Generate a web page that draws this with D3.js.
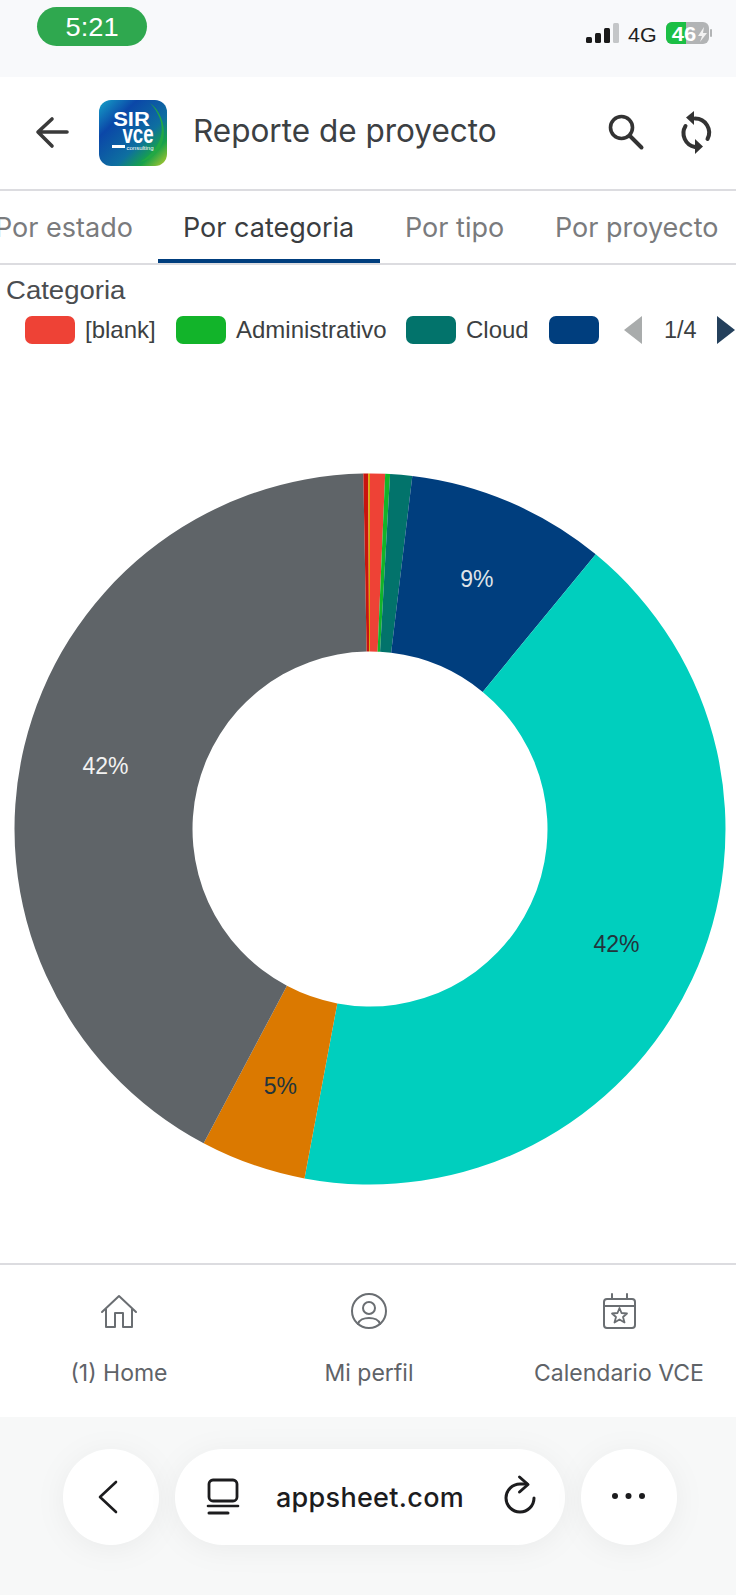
<!DOCTYPE html>
<html>
<head>
<meta charset="utf-8">
<title>Reporte de proyecto</title>
<script src="https://cdn.jsdelivr.net/npm/d3@7"></script>
<style>
	html, body { margin: 0; padding: 0; background: #fff; }
	svg { display: block; }
	text { font-family: Inter, sans-serif; }
	.arial { font-family: "Liberation Sans", Arial, sans-serif; }
</style>
</head>
<body>
<div id="chart"></div>
<script>
// slices run clockwise from 12 o'clock. only the first three names can be read in the legend
const categories = ['[blank]', 'Administrativo', 'Cloud', '', '', '', '', '', ''];
const shares = [0.68, 0.22, 1.0, 9.05, 42.0, 4.8, 41.95, 0.22, 0.08];
const sliceColors = ['#ee4236', '#12b42a', '#02736b', '#003e7e', '#00cfbe', '#db7900', '#5f6468', '#c9140f', '#d9a300'];
const labelColors = ['#fff', '#fff', '#fff', '#dfe3e8', '#22343c', '#22343c', '#f2f2f2', '#fff', '#fff'];

const legendShown = 4;
const legendPage = '1/4';
const tabs = ['Por estado', 'Por categoria', 'Por tipo', 'Por proyecto'];
const navItems = ['(1) Home', 'Mi perfil', 'Calendario VCE'];

const width = 736, height = 1595;
const svg = d3.select('#chart').append('svg')
	.attr('width', width)
	.attr('height', height);

svg.append('rect').attr('width', width).attr('height', height).attr('fill', '#fff');

function icon(parent, d, opts) {
	return parent.append('path')
		.attr('d', d)
		.attr('fill', opts.fill || 'none')
		.attr('stroke', opts.stroke || 'none')
		.attr('stroke-width', opts.sw || 0)
		.attr('stroke-linecap', 'round')
		.attr('stroke-linejoin', 'round');
}

// a few texts in the screenshot are slightly wider than the font gives
function place(sel, x, y, k) {
	return sel.attr('transform', `translate(${x},${y}) scale(${k},1)`);
}

// ---- phone status bar
const status = svg.append('g');
status.append('rect').attr('width', width).attr('height', 77).attr('fill', '#f8f9fb');
status.append('rect').attr('x', 37).attr('y', 7).attr('width', 110).attr('height', 39).attr('rx', 19.5).attr('fill', '#2fa84f');
place(status.append('text'), 92, 36, 1.05).attr('text-anchor', 'middle')
	.attr('font-size', 26).attr('fill', '#fff').classed('arial', true).text('5:21');

[[586, 37], [595, 33], [604, 28], [613, 23]].forEach((b, i) => {
	status.append('rect').attr('x', b[0]).attr('y', b[1]).attr('width', 6).attr('height', 43 - b[1])
		.attr('rx', 1.5).attr('fill', i == 3 ? '#c4c6c8' : '#1a1a1a');
});
place(status.append('text'), 628, 42, 1.1).attr('font-size', 19.5).attr('fill', '#222').classed('arial', true).text('4G');
status.append('rect').attr('x', 666).attr('y', 22).attr('width', 43).attr('height', 22).attr('rx', 6).attr('fill', '#b2b4b5');
status.append('path').attr('d', 'M672,22H686V44H672a6,6 0 0 1 -6,-6V28a6,6 0 0 1 6,-6Z').attr('fill', '#1cbf45');
status.append('rect').attr('x', 710).attr('y', 29).attr('width', 2).attr('height', 8).attr('rx', 1).attr('fill', '#b2b4b5');
place(status.append('text'), 684, 41, 1.1).attr('text-anchor', 'middle').attr('font-size', 20).attr('font-weight', 700)
	.attr('fill', '#fff').classed('arial', true).text('46');
status.append('path').attr('d', 'M704,27L698,36H702L700,42L707,33H703Z').attr('fill', '#f2f2f2');

// ---- app header
const header = svg.append('g');
icon(header, 'M67,132H39M52,119L38,132L52,146', { stroke: '#3a3a3a', sw: 3.6 });

const logoGrad = svg.append('defs').append('linearGradient').attr('id', 'logoGrad')
	.attr('x1', 0).attr('y1', 0).attr('x2', 1).attr('y2', 1);
logoGrad.append('stop').attr('offset', '0%').attr('stop-color', '#16a3c8');
logoGrad.append('stop').attr('offset', '28%').attr('stop-color', '#0b47a8');
logoGrad.append('stop').attr('offset', '62%').attr('stop-color', '#0e6fa0');
logoGrad.append('stop').attr('offset', '80%').attr('stop-color', '#17a24a');
logoGrad.append('stop').attr('offset', '100%').attr('stop-color', '#bccb2a');
header.append('rect').attr('x', 99).attr('y', 100).attr('width', 68).attr('height', 66).attr('rx', 12).attr('fill', 'url(#logoGrad)');
icon(header, 'M150,103C168,122 166,146 140,162C170,156 170,118 150,103Z', { fill: '#22a844' });
place(header.append('text'), 131.5, 126, 1.1).attr('text-anchor', 'middle').attr('font-size', 20).attr('font-weight', 700)
	.attr('fill', '#fff').classed('arial', true).text('SIR');
place(header.append('text'), 138, 143, 0.72).attr('text-anchor', 'middle').attr('font-size', 26).attr('font-weight', 700)
	.attr('fill', '#fff').classed('arial', true).text('vce');
header.append('rect').attr('x', 112).attr('y', 145).attr('width', 13).attr('height', 3).attr('fill', '#fff');
header.append('text').attr('x', 140).attr('y', 150).attr('text-anchor', 'middle').attr('font-size', 6)
	.attr('fill', '#fff').classed('arial', true).text('consulting');

header.append('text').attr('x', 193).attr('y', 142).attr('font-size', 31.5).attr('fill', '#3c4043').text('Reporte de proyecto');

header.append('circle').attr('cx', 621.5).attr('cy', 127.5).attr('r', 11).attr('fill', 'none').attr('stroke', '#333').attr('stroke-width', 3.6);
icon(header, 'M630,136L641.5,147.5', { stroke: '#333', sw: 4 });

icon(header, 'M695,118.5A14,14 0 0 1 707.5,139', { stroke: '#333', sw: 4 });
icon(header, 'M685.5,126A14,14 0 0 0 695,147', { stroke: '#333', sw: 4 });
header.append('path').attr('d', 'M694,111V125L686,117.5Z').attr('fill', '#333');
header.append('path').attr('d', 'M695,139V154L703,146.5Z').attr('fill', '#333');

header.append('rect').attr('x', 0).attr('y', 189).attr('width', width).attr('height', 2).attr('fill', '#dcdce0');

// ---- tabs
const tabX = [-5, 183, 405, 555];
const tabRow = svg.append('g');
tabRow.selectAll('text').data(tabs).enter().append('text')
	.attr('x', (d, i) => tabX[i])
	.attr('y', 237)
	.attr('font-size', 27)
	.attr('fill', (d, i) => i == 1 ? '#3a3d40' : '#7a7b7d')
	.text(d => d);
tabRow.append('rect').attr('x', 0).attr('y', 263).attr('width', width).attr('height', 2).attr('fill', '#dcdce0');
tabRow.append('rect').attr('x', 158).attr('y', 259).attr('width', 222).attr('height', 4).attr('fill', '#003e7e');

// ---- legend
const legend = svg.append('g');
place(legend.append('text'), 6, 299, 1.04).attr('font-size', 26.5).attr('fill', '#4a4d50').classed('arial', true).text('Categoria');

const legendX = [25, 176, 406, 549];
const entries = legend.selectAll('g').data(categories.slice(0, legendShown)).enter().append('g')
	.attr('transform', (d, i) => `translate(${legendX[i]},316)`);
entries.append('rect').attr('width', 50).attr('height', 28).attr('rx', 7).attr('fill', (d, i) => sliceColors[i]);
entries.append('text').attr('x', 60).attr('y', 22)
	.attr('font-size', 24).attr('fill', '#3c3f42').classed('arial', true).text(d => d);

legend.append('path').attr('d', 'M642,316V344L624,330Z').attr('fill', '#a9acac');
legend.append('text').attr('x', 664).attr('y', 338).attr('font-size', 23.5).attr('fill', '#3c3f42').classed('arial', true).text(legendPage);
legend.append('path').attr('d', 'M717,316V344L735,330Z').attr('fill', '#24405c');

// ---- donut
const cx = 370, cy = 829, outer = 355.5, inner = 177.5, labelRadius = 272;
const pie = d3.pie().sort(null).value(d => d);
const arc = d3.arc().innerRadius(inner).outerRadius(outer);
const labelArc = d3.arc().innerRadius(labelRadius).outerRadius(labelRadius);
const total = d3.sum(shares);
const pct = d3.format('.0%');
const color = d3.scaleOrdinal().domain(d3.range(shares.length)).range(sliceColors);

const donut = svg.append('g').attr('transform', `translate(${cx},${cy})`);
const slices = pie(shares);
donut.selectAll('path').data(slices).enter().append('path')
	.attr('d', arc)
	.attr('fill', (d, i) => color(i));
donut.selectAll('text').data(slices.filter(d => d.value / total >= 0.03)).enter().append('text')
	.attr('transform', d => `translate(${labelArc.centroid(d)})`)
	.attr('text-anchor', 'middle')
	.attr('dy', '0.35em')
	.attr('font-size', 23)
	.attr('fill', d => labelColors[d.index])
	.classed('arial', true)
	.text(d => pct(d.value / total));

// ---- bottom nav of the app
const nav = svg.append('g');
nav.append('rect').attr('x', 0).attr('y', 1263).attr('width', width).attr('height', 2).attr('fill', '#dcdce0');
const navX = [119, 369, 619];
nav.selectAll('text').data(navItems).enter().append('text')
	.attr('x', (d, i) => navX[i])
	.attr('y', 1381)
	.attr('text-anchor', 'middle')
	.attr('font-size', 23)
	.attr('fill', '#5f6368')
	.text(d => d);

const navStroke = { stroke: '#6a6e72', sw: 2 };
icon(nav, 'M102,1312L119,1296L136,1312M106,1309V1327H115V1313H123V1327H132V1309', navStroke);
nav.append('circle').attr('cx', 369).attr('cy', 1311).attr('r', 17).attr('fill', 'none').attr('stroke', '#6a6e72').attr('stroke-width', 2);
nav.append('circle').attr('cx', 369).attr('cy', 1308).attr('r', 6).attr('fill', 'none').attr('stroke', '#6a6e72').attr('stroke-width', 2);
icon(nav, 'M358,1324C360,1316 378,1316 380,1324', navStroke);
nav.append('rect').attr('x', 604).attr('y', 1299).attr('width', 31).attr('height', 29).attr('rx', 3).attr('fill', 'none').attr('stroke', '#6a6e72').attr('stroke-width', 2);
icon(nav, 'M604,1306H635M612,1294V1299M627,1294V1299', navStroke);
icon(nav, 'M619.5,1308L621.5,1313L627,1313.5L623,1317L624.5,1322.5L619.5,1319.5L614.5,1322.5L616,1317L612,1313.5L617.5,1313Z', { stroke: '#6a6e72', sw: 1.8 });

// ---- browser bar
const bar = svg.append('g');
bar.append('rect').attr('x', 0).attr('y', 1417).attr('width', width).attr('height', 178).attr('fill', '#f7f8f8');
[[63, 96], [175, 390], [581, 96]].forEach(b => {
	bar.append('rect').attr('x', b[0]).attr('y', 1449).attr('width', b[1]).attr('height', 96).attr('rx', 48).attr('fill', '#fff')
		.style('filter', 'drop-shadow(0 4px 14px rgba(0,0,0,0.05))');
});
icon(bar, 'M116,1482L100,1497L116,1512', { stroke: '#1c1c1e', sw: 2.6 });
bar.append('rect').attr('x', 209).attr('y', 1480).attr('width', 28).attr('height', 21).attr('rx', 4).attr('fill', 'none').attr('stroke', '#1c1c1e').attr('stroke-width', 2.8);
icon(bar, 'M208,1506H238', { stroke: '#1c1c1e', sw: 2.6 });
icon(bar, 'M209,1513H228', { stroke: '#1c1c1e', sw: 3 });
bar.append('text').attr('x', 370).attr('y', 1507).attr('text-anchor', 'middle').attr('font-size', 27).attr('letter-spacing', 0.3)
	.attr('font-weight', 500).attr('fill', '#1c1c1e').text('appsheet.com');
icon(bar, 'M527,1484H520A14,14 0 1 0 534,1498', { stroke: '#1c1c1e', sw: 3 });
icon(bar, 'M519.5,1477L528,1484.5L519.5,1492', { stroke: '#1c1c1e', sw: 3 });
[615, 628.5, 642].forEach(x => {
	bar.append('circle').attr('cx', x).attr('cy', 1496).attr('r', 3).attr('fill', '#1c1c1e');
});
</script>
</body>
</html>
